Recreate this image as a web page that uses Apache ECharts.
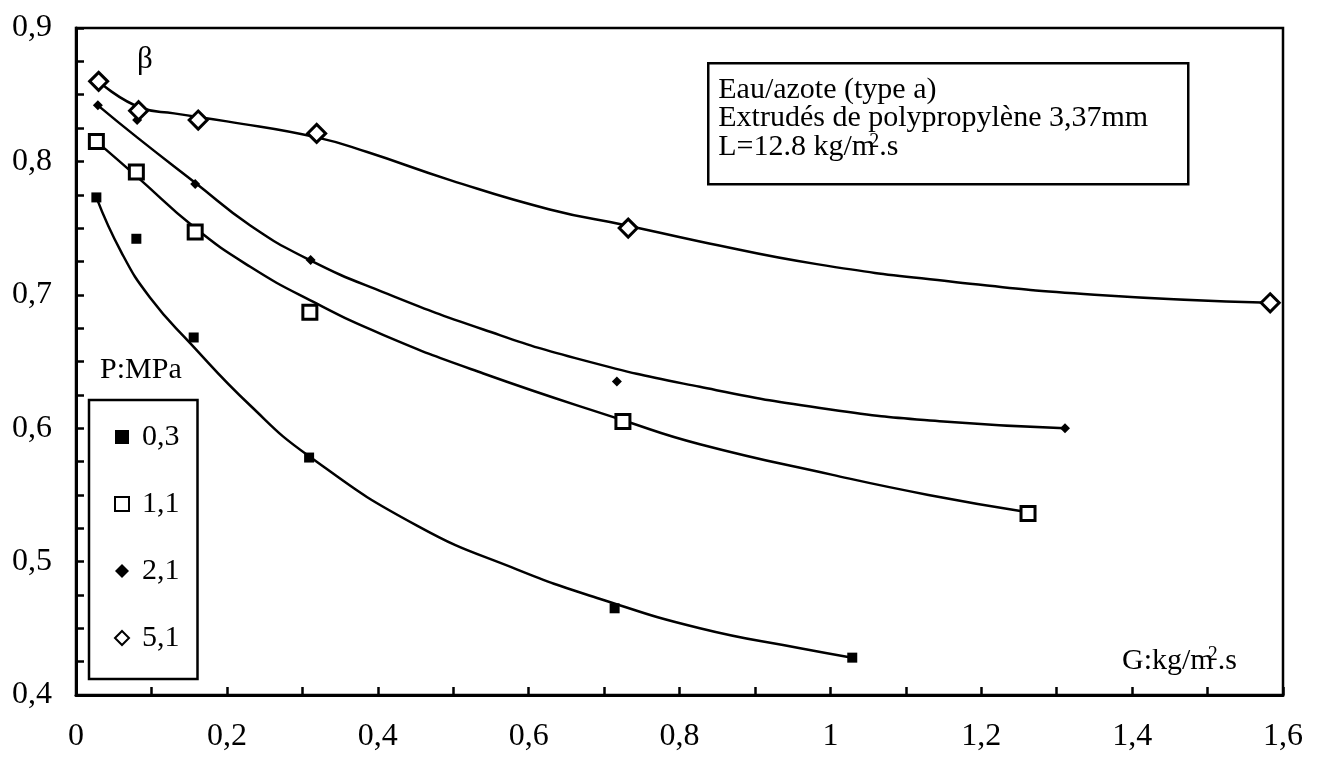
<!DOCTYPE html>
<html>
<head>
<meta charset="utf-8">
<script src="https://cdn.jsdelivr.net/npm/echarts@6/dist/echarts.min.js"></script>
<style>
html,body{margin:0;padding:0;background:#fff;}
#chart{width:1320px;height:758px;}
</style>
</head>
<body>
<div id="chart"></div>
<script>
// Legend / series names (pressure P in MPa)
var seriesNames = ['0,3', '1,1', '2,1', '5,1'];

// Measured points [G, beta]
var pts03 = [[0.027,0.773],[0.080,0.742],[0.156,0.668],[0.309,0.578],[0.714,0.465],[1.029,0.428]];
var pts11 = [[0.027,0.815],[0.080,0.792],[0.158,0.747],[0.310,0.687],[0.725,0.605],[1.262,0.536]];
var pts21 = [[0.029,0.842],[0.081,0.831],[0.158,0.783],[0.311,0.726],[0.717,0.635],[1.311,0.600]];
var pts51 = [[0.030,0.860],[0.083,0.838],[0.162,0.831],[0.319,0.821],[0.732,0.750],[1.583,0.694]];

// Fitted curves [G, beta]
var curve03 = [[0.027,0.773],[0.060,0.732],[0.098,0.698],[0.151,0.664],[0.231,0.617],[0.309,0.579],[0.452,0.527],[0.585,0.494],[0.695,0.472],[0.827,0.450],[0.960,0.435],[1.029,0.428]];
var curve11 = [[0.027,0.815],[0.080,0.789],[0.158,0.750],[0.231,0.721],[0.310,0.696],[0.407,0.670],[0.540,0.641],[0.725,0.606],[0.827,0.588],[1.003,0.565],[1.130,0.550],[1.262,0.537]];
var curve21 = [[0.029,0.842],[0.081,0.818],[0.158,0.784],[0.231,0.752],[0.310,0.726],[0.407,0.702],[0.540,0.674],[0.672,0.651],[0.827,0.631],[1.000,0.614],[1.150,0.605],[1.311,0.600]];
var curve51 = [[0.030,0.860],[0.087,0.840],[0.130,0.836],[0.200,0.830],[0.319,0.818],[0.386,0.807],[0.496,0.786],[0.628,0.764],[0.730,0.752],[0.827,0.740],[0.982,0.723],[1.159,0.710],[1.350,0.700],[1.583,0.694]];

// Annotation text
var noteLines = ['Eau/azote (type a)', 'Extrudés de polypropylène 3,37mm', 'L=12.8 kg/m{sup|2}.s'];
var xAxisTitle = 'G:kg/m{sup|2}.s';
var yAxisTitle = 'β';
var legendTitle = 'P:MPa';

var FONT = '"Liberation Serif", "Times New Roman", serif';

function fmt(v){
  var r = Math.round(v*10)/10;
  return String(r).replace('.', ',');
}

var chart = echarts.init(document.getElementById('chart'), null, {renderer:'canvas'});

function curveSeries(data){
  return {
    type:'line', data:data, smooth:0.5, showSymbol:false, silent:true,
    lineStyle:{color:'#000', width:2.5}, z:2
  };
}

var supStyle = {fontSize:20, padding:[0,0,12,-6], fontFamily:FONT, color:'#000'};

var option = {
  backgroundColor:'#fff',
  animation:false,
  grid:{left:76, right:37, top:28, bottom:63, show:true, borderColor:'#000', borderWidth:2.5, backgroundColor:'transparent'},
  xAxis:{
    type:'value', min:0, max:1.6, interval:0.2,
    axisLine:{show:true, onZero:false, lineStyle:{color:'#000', width:3}},
    axisTick:{show:true, inside:true, length:8, lineStyle:{color:'#000', width:2.5}},
    minorTick:{show:true, splitNumber:2, length:8, lineStyle:{color:'#000', width:2.5}},
    splitLine:{show:false},
    axisLabel:{color:'#000', fontFamily:FONT, fontSize:32, margin:26, formatter:fmt, showMaxLabel:true, showMinLabel:true}
  },
  yAxis:{
    type:'value', min:0.4, max:0.9, interval:0.1,
    axisLine:{show:true, onZero:false, lineStyle:{color:'#000', width:3}},
    axisTick:{show:true, inside:true, length:8, lineStyle:{color:'#000', width:2.5}},
    minorTick:{show:true, splitNumber:4, length:8, lineStyle:{color:'#000', width:2.5}},
    splitLine:{show:false},
    axisLabel:{color:'#000', fontFamily:FONT, fontSize:32, margin:24, formatter:fmt}
  },
  legend:{
    data:seriesNames,
    orient:'vertical', left:89, top:400,
    padding:[22, 18, 26, 25],
    itemGap:37, itemWidth:14, itemHeight:14, itemTextGap:10,
    borderColor:'#000', borderWidth:2.5, backgroundColor:'#fff',
    textStyle:{color:'#000', fontFamily:FONT, fontSize:30, padding:[0,0,0,8]},
    selectedMode:false
  },
  series:[
    curveSeries(curve03), curveSeries(curve11), curveSeries(curve21), curveSeries(curve51),
    {name:seriesNames[0], type:'scatter', data:pts03, symbol:'rect', symbolSize:10,
     itemStyle:{color:'#000', opacity:1}, z:5},
    {name:seriesNames[1], type:'scatter', data:pts11, symbol:'rect', symbolSize:14,
     itemStyle:{color:'#fff', borderColor:'#000', borderWidth:3, opacity:1}, z:5},
    {name:seriesNames[2], type:'scatter', data:pts21, symbol:'diamond', symbolSize:10,
     itemStyle:{color:'#000', opacity:1}, z:5},
    {name:seriesNames[3], type:'scatter', data:pts51, symbol:'diamond', symbolSize:18,
     itemStyle:{color:'#fff', borderColor:'#000', borderWidth:3, opacity:1}, z:5}
  ],
  graphic:[
    {type:'text', left:137, top:44, style:{text:yAxisTitle, font:'31px ' + FONT, fill:'#000'}},
    {type:'text', left:100, top:355, style:{text:legendTitle, font:'30px ' + FONT, fill:'#000'}},
    {type:'group', left:707, top:62, children:[
      {type:'rect', shape:{x:0, y:0, width:480, height:121}, style:{fill:'#fff', stroke:'#000', lineWidth:2.5}},
      {type:'text', x:10, y:12, style:{text:noteLines[0], font:'30px ' + FONT, fill:'#000'}},
      {type:'text', x:10, y:40, style:{text:noteLines[1], font:'30px ' + FONT, fill:'#000'}},
      {type:'text', x:10, y:68, style:{text:noteLines[2], rich:{sup:supStyle}, font:'30px ' + FONT, fill:'#000'}}
    ]},
    {type:'text', left:1122, top:645, style:{text:xAxisTitle, rich:{sup:supStyle}, font:'30px ' + FONT, fill:'#000'}}
  ]
};
chart.setOption(option);
</script>
</body>
</html>
